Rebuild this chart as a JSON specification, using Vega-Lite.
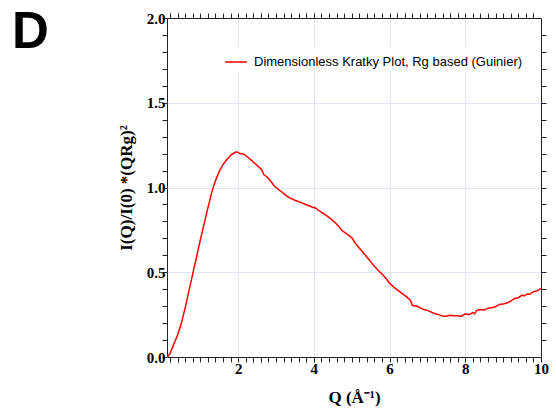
{
  "$schema": "https://vega.github.io/schema/vega-lite/v6.json",
  "width": 374,
  "height": 339,
  "autosize": {"type": "none"},
  "padding": {"left": 167, "top": 18, "right": 15, "bottom": 56},
  "background": "white",
  "title": {"text": "D", "anchor": "start", "frame": "group", "font": "Liberation Sans", "fontSize": 51, "fontWeight": "bold", "color": "black", "baseline": "alphabetic", "offset": 0, "dx": -155, "dy": 88},
  "config": {
    "view": {"stroke": "#222", "strokeWidth": 1},
    "axis": {"domain": false, "ticks": true, "tickColor": "#222", "tickWidth": 1, "labelFont": "Liberation Serif", "labelFontWeight": "bold", "labelFontSize": 15, "labelColor": "black", "titleFont": "Liberation Serif", "titleFontWeight": "bold", "titleFontSize": 17, "titleColor": "black", "labelOverlap": false, "labelFlush": false, "gridColor": "#c8c8f0", "gridDash": [1, 1], "gridWidth": 1}
  },
  "data": {"values": [
    {"q": 0.13, "v": 0.0}, {"q": 0.2, "v": 0.02}, {"q": 0.3, "v": 0.075}, {"q": 0.4, "v": 0.13}, {"q": 0.5, "v": 0.2},
    {"q": 0.6, "v": 0.29}, {"q": 0.7, "v": 0.39}, {"q": 0.8, "v": 0.49}, {"q": 0.9, "v": 0.59}, {"q": 1.0, "v": 0.69},
    {"q": 1.1, "v": 0.785}, {"q": 1.2, "v": 0.88}, {"q": 1.3, "v": 0.97}, {"q": 1.4, "v": 1.04}, {"q": 1.5, "v": 1.095},
    {"q": 1.6, "v": 1.135}, {"q": 1.7, "v": 1.165}, {"q": 1.8, "v": 1.19}, {"q": 1.9, "v": 1.205}, {"q": 1.96, "v": 1.21},
    {"q": 2.05, "v": 1.2}, {"q": 2.15, "v": 1.197}, {"q": 2.25, "v": 1.18}, {"q": 2.35, "v": 1.16}, {"q": 2.45, "v": 1.14},
    {"q": 2.55, "v": 1.12}, {"q": 2.62, "v": 1.105}, {"q": 2.68, "v": 1.075}, {"q": 2.75, "v": 1.065}, {"q": 2.85, "v": 1.04},
    {"q": 2.95, "v": 1.01}, {"q": 3.05, "v": 0.99}, {"q": 3.15, "v": 0.975}, {"q": 3.25, "v": 0.955}, {"q": 3.35, "v": 0.94},
    {"q": 3.5, "v": 0.925}, {"q": 3.65, "v": 0.912}, {"q": 3.8, "v": 0.898}, {"q": 3.95, "v": 0.885}, {"q": 4.05, "v": 0.878},
    {"q": 4.15, "v": 0.86}, {"q": 4.3, "v": 0.84}, {"q": 4.45, "v": 0.815}, {"q": 4.6, "v": 0.785}, {"q": 4.75, "v": 0.745},
    {"q": 4.9, "v": 0.72}, {"q": 5.0, "v": 0.705}, {"q": 5.1, "v": 0.67}, {"q": 5.25, "v": 0.63}, {"q": 5.4, "v": 0.59},
    {"q": 5.55, "v": 0.548}, {"q": 5.7, "v": 0.51}, {"q": 5.8, "v": 0.49}, {"q": 5.9, "v": 0.465}, {"q": 6.0, "v": 0.435},
    {"q": 6.15, "v": 0.405}, {"q": 6.3, "v": 0.38}, {"q": 6.45, "v": 0.355}, {"q": 6.55, "v": 0.335}, {"q": 6.6, "v": 0.305},
    {"q": 6.75, "v": 0.298}, {"q": 6.9, "v": 0.28}, {"q": 7.0, "v": 0.275}, {"q": 7.1, "v": 0.265}, {"q": 7.2, "v": 0.255},
    {"q": 7.3, "v": 0.25}, {"q": 7.4, "v": 0.242}, {"q": 7.5, "v": 0.24}, {"q": 7.6, "v": 0.246}, {"q": 7.7, "v": 0.244},
    {"q": 7.8, "v": 0.243}, {"q": 7.9, "v": 0.24}, {"q": 8.0, "v": 0.255}, {"q": 8.1, "v": 0.25}, {"q": 8.2, "v": 0.262},
    {"q": 8.25, "v": 0.255}, {"q": 8.3, "v": 0.275}, {"q": 8.4, "v": 0.28}, {"q": 8.5, "v": 0.277}, {"q": 8.6, "v": 0.288},
    {"q": 8.7, "v": 0.29}, {"q": 8.8, "v": 0.296}, {"q": 8.9, "v": 0.31}, {"q": 9.0, "v": 0.313}, {"q": 9.1, "v": 0.318},
    {"q": 9.2, "v": 0.33}, {"q": 9.3, "v": 0.345}, {"q": 9.4, "v": 0.35}, {"q": 9.5, "v": 0.365}, {"q": 9.55, "v": 0.36},
    {"q": 9.65, "v": 0.372}, {"q": 9.7, "v": 0.37}, {"q": 9.8, "v": 0.385}, {"q": 9.9, "v": 0.39}, {"q": 10.0, "v": 0.405}
  ]},
  "resolve": {"axis": {"x": "independent", "y": "independent"}},
  "layer": [
    {
      "mark": {"type": "line", "opacity": 0},
      "encoding": {
        "x": {"field": "q", "type": "quantitative",
          "axis": {"orient": "top", "title": null, "labels": false, "grid": false, "tickSize": 5,
            "values": [0.2,0.4,0.6,0.8,1,1.2,1.4,1.6,1.8,2,2.2,2.4,2.6,2.8,3,3.2,3.4,3.6,3.8,4,4.2,4.4,4.6,4.8,5,5.2,5.4,5.6,5.8,6,6.2,6.4,6.6,6.8,7,7.2,7.4,7.6,7.8,8,8.2,8.4,8.6,8.8,9,9.2,9.4,9.6,9.8]}},
        "y": {"field": "v", "type": "quantitative",
          "axis": {"orient": "right", "title": null, "labels": false, "grid": false, "tickSize": 5,
            "values": [0.1,0.2,0.3,0.4,0.5,0.6,0.7,0.8,0.9,1,1.1,1.2,1.3,1.4,1.5,1.6,1.7,1.8,1.9]}}
      }
    },
    {
      "mark": {"type": "line", "strokeWidth": 1.5, "interpolate": "linear"},
      "encoding": {
        "x": {"field": "q", "type": "quantitative", "scale": {"domain": [0.12, 10], "nice": false, "zero": false},
          "axis": {"orient": "bottom", "title": "Q (Å⁻¹)", "titlePadding": 13, "tickSize": 5,
            "values": [0.2,0.4,0.6,0.8,1,1.2,1.4,1.6,1.8,2,2.2,2.4,2.6,2.8,3,3.2,3.4,3.6,3.8,4,4.2,4.4,4.6,4.8,5,5.2,5.4,5.6,5.8,6,6.2,6.4,6.6,6.8,7,7.2,7.4,7.6,7.8,8,8.2,8.4,8.6,8.8,9,9.2,9.4,9.6,9.8,10],
            "labelExpr": "indexof([2,4,6,8,10], datum.value) >= 0 ? '' + datum.value : ''",
            "labelPadding": -1,
            "grid": true,
            "gridOpacity": {"condition": {"test": "indexof([2,4,6,8], datum.value) >= 0", "value": 1}, "value": 0}}},
        "y": {"field": "v", "type": "quantitative", "scale": {"domain": [0, 2], "nice": false},
          "axis": {"orient": "left", "title": "I(Q)/I(0) *(QRg)²", "titlePadding": 11, "tickSize": 5,
            "values": [0,0.1,0.2,0.3,0.4,0.5,0.6,0.7,0.8,0.9,1,1.1,1.2,1.3,1.4,1.5,1.6,1.7,1.8,1.9,2],
            "format": ".1f",
            "labelExpr": "abs(datum.value*2 - round(datum.value*2)) < 1e-6 ? datum.label : ''",
            "labelPadding": -3,
            "grid": true,
            "gridOpacity": {"condition": {"test": "abs(datum.value*2 - round(datum.value*2)) < 1e-6 && datum.value > 0.01 && datum.value < 1.99", "value": 1}, "value": 0}}},
        "color": {"datum": "Dimensionless Kratky Plot, Rg based (Guinier)", "type": "nominal",
          "scale": {"range": ["#ff0000"]},
          "legend": {"title": null, "orient": "none", "legendX": 54, "legendY": 29, "symbolType": "stroke", "symbolSize": 484, "symbolStrokeWidth": 1.5, "labelFont": "Liberation Sans", "labelFontSize": 13, "labelColor": "black", "labelLimit": 400, "labelOffset": 6, "fillColor": "white", "padding": 3}}
      }
    }
  ]
}
